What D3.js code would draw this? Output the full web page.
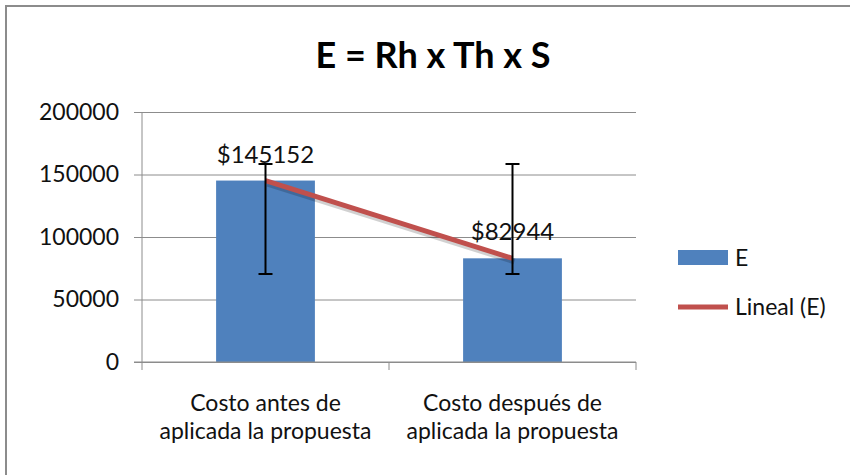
<!DOCTYPE html>
<html>
<head>
<meta charset="utf-8">
<script src="https://cdn.jsdelivr.net/npm/d3@7"></script>
<style>
  body { margin: 0; background: #fff; }
  svg { display: block; font-family: Lato, "Open Sans", sans-serif; }
</style>
</head>
<body>
<svg id="chart" width="850" height="475"></svg>
<script>
const categories = [['Costo antes de', 'aplicada la propuesta'], ['Costo después de', 'aplicada la propuesta']];
const values = [145152, 82944];
const labels = ['$145152', '$82944'];
const errHigh = [158400, 158400];
const errLow = [70400, 70400];
const yTicks = [0, 50000, 100000, 150000, 200000];

const svg = d3.select('#chart');
const margin = {top: 112, left: 142};
const w = 494, h = 250;
const keys = categories.map((c, i) => i);

// frame
svg.append('rect').attr('x', 6).attr('y', 6).attr('width', 900).attr('height', 500)
  .attr('fill', 'none').attr('stroke', '#8c8c8c').attr('stroke-width', 2);

svg.append('text').attr('x', 433).attr('y', 68).attr('text-anchor', 'middle')
  .attr('font-size', 36).attr('font-weight', 'bold').text('E = Rh x Th x S');

const g = svg.append('g').attr('transform', `translate(${margin.left},${margin.top})`);

const x = d3.scaleBand().domain(keys).range([0, w]).padding(0);
const y = d3.scaleLinear().domain([0, 200000]).range([h, 0]);
const bw = x.bandwidth() * 0.4;
const cx = i => x(i) + x.bandwidth() / 2;

// gridlines
g.append('g').call(d3.axisLeft(y).tickValues(yTicks).tickSize(-w).tickFormat(''))
  .call(a => a.select('.domain').remove())
  .selectAll('line').attr('stroke', '#8c8c8c');

// bars
g.selectAll('.bar').data(values).enter().append('rect')
  .attr('x', (d, i) => cx(i) - bw / 2).attr('y', d => y(d))
  .attr('width', bw).attr('height', d => h - y(d)).attr('fill', '#4f81bd');

// trend line with shadow
const line = d3.line().x((d, i) => cx(i)).y(d => y(d));
g.append('path').datum(values).attr('d', line).attr('fill', 'none')
  .attr('stroke', 'rgba(0,0,0,0.18)').attr('stroke-width', 6)
  .attr('transform', 'translate(2,3)');
g.append('path').datum(values).attr('d', line).attr('fill', 'none')
  .attr('stroke', '#c0504d').attr('stroke-width', 5);

// error bars
keys.forEach(i => {
  const eb = g.append('g').attr('stroke', '#000').attr('stroke-width', 2);
  eb.append('line').attr('x1', cx(i)).attr('x2', cx(i)).attr('y1', y(errHigh[i])).attr('y2', y(errLow[i]));
  [errHigh[i], errLow[i]].forEach(v => eb.append('line')
    .attr('x1', cx(i) - 7).attr('x2', cx(i) + 7).attr('y1', y(v)).attr('y2', y(v)));
});

// data labels
g.selectAll('.lbl').data(values).enter().append('text')
  .attr('x', (d, i) => cx(i)).attr('y', d => y(d) - 18)
  .attr('text-anchor', 'middle').attr('font-size', 24).attr('fill', '#111')
  .text((d, i) => labels[i]);

// axes
const yAxis = g.append('g').call(d3.axisLeft(y).tickValues(yTicks).tickFormat(d3.format('d')).tickSize(8).tickPadding(15));
yAxis.selectAll('text').attr('font-size', 23).attr('fill', '#111').attr('font-family', 'Lato, sans-serif');
yAxis.selectAll('line, path').attr('stroke', '#8c8c8c');
yAxis.select('.domain').attr('d', `M0,${h}V0`);

const xAxis = g.append('g').attr('transform', `translate(0,${h})`)
  .call(d3.axisBottom(x).tickSize(0).tickFormat(''));
xAxis.select('.domain').attr('d', `M-8,0H${w}`).attr('stroke', '#8c8c8c');
xAxis.selectAll('.sep').data([0, 1, 2]).enter().append('line')
  .attr('x1', d => d * x.step()).attr('x2', d => d * x.step())
  .attr('y1', 0).attr('y2', 8).attr('stroke', '#8c8c8c');

// category labels, one text per line
categories.forEach((c, i) => {
  c.forEach((s, j) => g.append('text').attr('text-anchor', 'middle').attr('font-size', 23)
    .attr('fill', '#111').attr('x', cx(i)).attr('y', h + 49 + j * 28).text(s));
});

// legend
const lg = svg.append('g').attr('transform', 'translate(678,250)');
lg.append('rect').attr('width', 50).attr('height', 15).attr('fill', '#4f81bd');
lg.append('text').attr('x', 57).attr('y', 16).attr('font-size', 23).attr('fill', '#111').text('E');
lg.append('line').attr('x1', 0).attr('x2', 50).attr('y1', 57).attr('y2', 57)
  .attr('stroke', '#c0504d').attr('stroke-width', 5);
lg.append('text').attr('x', 57).attr('y', 65).attr('font-size', 23).attr('fill', '#111').text('Lineal (E)');
</script>
</body>
</html>
